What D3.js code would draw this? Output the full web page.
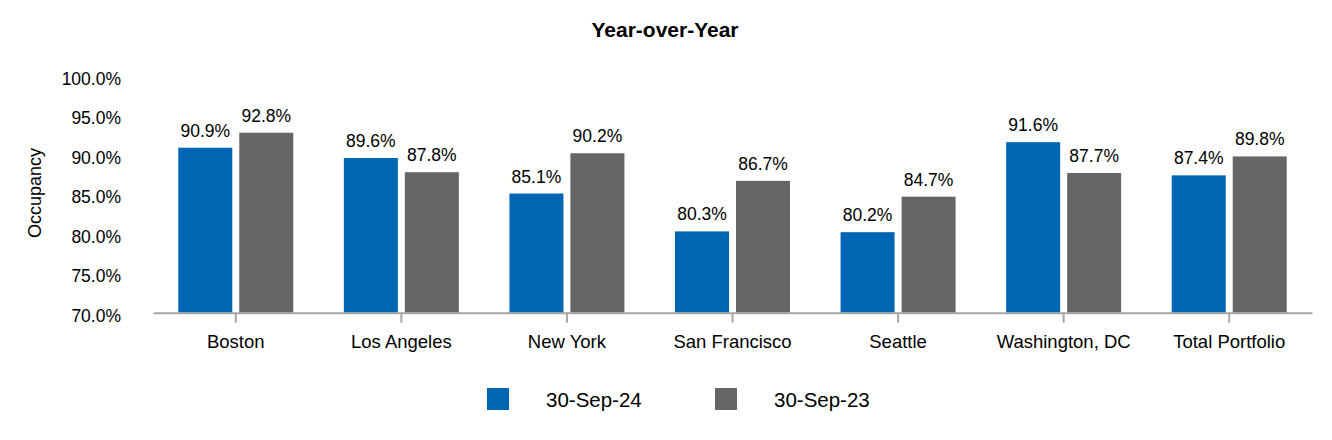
<!DOCTYPE html>
<html><head><meta charset="utf-8">
<script src="https://cdn.jsdelivr.net/npm/d3@7"></script>
<style>body{margin:0;background:#fff;}svg{display:block;font-family:"Liberation Sans",Arial,sans-serif;}</style>
</head><body>
<svg id="chart" width="1332" height="440"></svg>
<script>
const categories = ["Boston","Los Angeles","New York","San Francisco","Seattle","Washington, DC","Total Portfolio"];
const seriesNames = ["30-Sep-24","30-Sep-23"];
const sep24 = [90.9, 89.6, 85.1, 80.3, 80.2, 91.6, 87.4];
const sep23 = [92.8, 87.8, 90.2, 86.7, 84.7, 87.7, 89.8];
const yTicks = [70, 75, 80, 85, 90, 95, 100];
const colors = ["#0066b3", "#666666"];

const svg = d3.select("#chart");
const x0 = d3.scaleBand().domain(categories).range([153, 1312]).paddingInner(0).paddingOuter(0);
const x1 = d3.scaleBand().domain(seriesNames).range([-57.5, 57.5]).paddingInner(7/61).paddingOuter(0);
const y = d3.scaleLinear().domain([70, 100]).range([312.7, 75.9]);
const color = d3.scaleOrdinal().domain(seriesNames).range(colors);

const rows = categories.map((c, i) => ({cat: c, vals: [
  {s: seriesNames[0], v: sep24[i]}, {s: seriesNames[1], v: sep23[i]}]}));

// title
svg.append("text").attr("x", 665).attr("y", 37).attr("text-anchor", "middle")
  .attr("font-weight", "bold").attr("font-size", 21).attr("fill", "#000").text("Year-over-Year");

// y axis labels
const yAxis = d3.axisLeft(y).tickValues(yTicks).tickFormat(d => d3.format(".1f")(d) + "%").tickSize(0).tickPadding(0);
const gy = svg.append("g").attr("transform", "translate(121,3)").call(yAxis);
gy.select(".domain").remove();
gy.selectAll("text").attr("font-size", 17.5).attr("font-family", "Liberation Sans, Arial, sans-serif").attr("fill", "#000");

// y title
svg.append("text").attr("transform", "translate(41,193) rotate(-90)").attr("text-anchor", "middle")
  .attr("font-size", 18).attr("fill", "#000").text("Occupancy");

// bars
const g = svg.append("g");
const groups = g.selectAll("g.cat").data(rows).join("g").attr("class", "cat")
  .attr("transform", d => `translate(${x0(d.cat) + x0.bandwidth()/2},0)`);
groups.selectAll("rect").data(d => d.vals).join("rect")
  .attr("x", d => x1(d.s)).attr("width", x1.bandwidth())
  .attr("y", d => y(d.v)).attr("height", d => y(70) - y(d.v))
  .attr("fill", d => color(d.s));
groups.selectAll("text.val").data(d => d.vals).join("text").attr("class", "val")
  .attr("x", d => x1(d.s) + x1.bandwidth()/2).attr("y", d => y(d.v) - 11)
  .attr("text-anchor", "middle").attr("font-size", 17.5).attr("fill", "#000")
  .text(d => d3.format(".1f")(d.v) + "%");

// x axis
const xAxis = d3.axisBottom(x0).tickSize(10).tickSizeOuter(0).tickPadding(12);
const gx = svg.append("g").attr("transform", `translate(0,${y(70)})`).call(xAxis);
gx.select(".domain").attr("stroke", "#a6a6a6").attr("stroke-width", 2);
gx.selectAll(".tick line").attr("stroke", "#a6a6a6").attr("stroke-width", 2);
gx.selectAll(".tick text").attr("font-size", 18.5).attr("font-family", "Liberation Sans, Arial, sans-serif").attr("fill", "#000");

// legend
const legX = [487, 715];
const leg = svg.append("g").selectAll("g").data(seriesNames).join("g")
  .attr("transform", (d, i) => `translate(${legX[i]},388)`);
leg.append("rect").attr("width", 22).attr("height", 22).attr("fill", d => color(d));
leg.append("text").attr("x", 59).attr("y", 19).attr("font-size", 20.5).attr("fill", "#000").text(d => d);
</script>
</body></html>
